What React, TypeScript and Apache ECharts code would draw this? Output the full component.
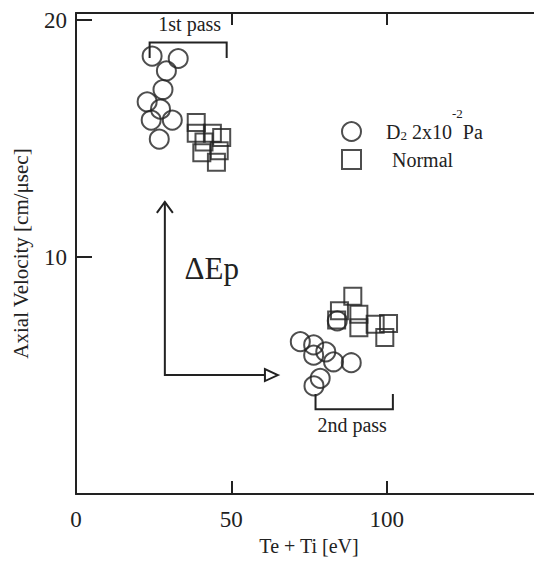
import React, { useEffect, useRef } from "react";
import * as echarts from "echarts";

// ---- data ----
const d2FirstPass: number[][] = [
  [24.5, 18.48], [32.9, 18.38], [29.1, 17.86], [28.0, 17.07], [22.9, 16.55],
  [27.2, 16.24], [24.2, 15.78], [31.0, 15.78], [26.8, 14.98],
];
const d2SecondPass: number[][] = [
  [72.2, 6.43], [76.5, 6.29], [76.5, 5.86], [80.4, 6.0], [82.9, 5.58],
  [88.6, 5.54], [78.6, 4.88], [76.6, 4.56], [84.1, 7.31],
];
const normalFirstPass: number[][] = [
  [38.7, 15.68], [38.7, 15.22], [43.9, 15.22], [46.9, 15.05],
  [41.2, 14.86], [40.5, 14.4], [46.1, 14.49], [45.2, 14.0],
];
const normalSecondPass: number[][] = [
  [89.1, 8.35], [84.8, 7.73], [83.9, 7.34], [91.05, 7.59],
  [91.05, 7.02], [96.3, 7.16], [100.6, 7.2], [99.4, 6.61],
];

const seriesNames = ["D2 2x10-2 Pa", "Normal"];
const xRange = [0, 150];
const yRange = [0, 20.3];
const xInterval = 50;
const yInterval = 10;

// annotation geometry in data coordinates
const bracket1st: number[][] = [[23.7, 18.4], [23.7, 19.06], [48.5, 19.06], [48.5, 18.4]];
const bracket2nd: number[][] = [[77.1, 4.22], [77.1, 3.58], [102, 3.58], [102, 4.22]];
const arrowPath: number[][] = [[28.6, 12.33], [28.6, 5.02], [65, 5.02]];
const label1st = { text: "1st pass", at: [36.6, 19.83] };
const label2nd = { text: "2nd pass", at: [88.9, 2.91] };
const labelDelta = { text: "ΔEp", at: [43.7, 9.5] };

const INK = "#222";
const FONT = "'Liberation Serif', 'Times New Roman', serif";

export default function App() {
  const ref = useRef<HTMLDivElement>(null);

  useEffect(() => {
    if (!ref.current) return;
    const chart = echarts.init(ref.current, undefined, { renderer: "svg" });

    const axisCommon = {
      type: "value" as const,
      splitLine: { show: false },
      axisLine: { show: true, onZero: false, lineStyle: { color: INK, width: 2 } },
    };

    const markerStyle = { color: "transparent", borderColor: INK, borderWidth: 2 };

    const option: any = {
      animation: false,
      backgroundColor: "#fff",
      grid: { left: 76, top: 13, width: 466, height: 481 },
      xAxis: [
        {
          ...axisCommon,
          min: xRange[0], max: xRange[1], interval: xInterval,
          position: "bottom",
          axisTick: { inside: true, length: 13, lineStyle: { color: INK, width: 2 } },
          axisLabel: { fontSize: 23, fontFamily: FONT, color: INK, margin: 14, showMaxLabel: false },
          name: "Te + Ti [eV]",
          nameLocation: "middle",
          nameGap: 40,
          nameTextStyle: { fontSize: 20, fontFamily: FONT, color: INK },
        },
        {
          ...axisCommon,
          min: xRange[0], max: xRange[1], interval: xInterval,
          position: "top",
          axisTick: { inside: true, length: 12, lineStyle: { color: INK, width: 2 } },
          axisLabel: { show: false },
        },
      ],
      yAxis: [
        {
          ...axisCommon,
          min: yRange[0], max: yRange[1], interval: yInterval,
          position: "left",
          axisTick: { inside: true, length: 16, lineStyle: { color: INK, width: 2 } },
          axisLabel: {
            fontSize: 23, fontFamily: FONT, color: INK, margin: 9,
            showMaxLabel: false, showMinLabel: false,
          },
          name: "Axial Velocity [cm/μsec]",
          nameLocation: "middle",
          nameGap: 45,
          nameTextStyle: { fontSize: 21, fontFamily: FONT, color: INK },
        },
        {
          ...axisCommon,
          min: yRange[0], max: yRange[1], interval: yInterval,
          position: "right",
          axisTick: { inside: true, length: 8, lineStyle: { color: INK, width: 2 } },
          axisLabel: { show: false },
        },
      ],
      legend: {
        orient: "vertical",
        left: 341,
        top: 107,
        padding: 0,
        itemWidth: 19,
        itemHeight: 19,
        itemGap: 7,
        selectedMode: false,
        data: [
          { name: seriesNames[0], icon: "circle", itemStyle: markerStyle },
          { name: seriesNames[1], icon: "rect", itemStyle: markerStyle },
        ],
        formatter: (name: string) =>
          name === seriesNames[0]
            ? "{sp|}{t|D}{sub|2}{t| 2x10}{sup|-2}{t|Pa}"
            : "{sp2|}{t|Normal}",
        textStyle: {
          color: INK,
          fontFamily: FONT,
          rich: {
            sp: { width: 20 },
            sp2: { width: 26 },
            t: { fontSize: 20, fontFamily: FONT, color: INK, verticalAlign: "middle" },
            sub: { fontSize: 13, fontFamily: FONT, color: INK, verticalAlign: "middle", padding: [7, 0, 0, 0] },
            sup: { fontSize: 13, fontFamily: FONT, color: INK, verticalAlign: "middle", padding: [0, 0, 36, 0] },
          },
        },
      },
      series: [
        {
          name: seriesNames[0],
          type: "scatter",
          symbol: "circle",
          symbolSize: 19,
          itemStyle: markerStyle,
          data: [...d2FirstPass, ...d2SecondPass],
        },
        {
          name: seriesNames[1],
          type: "scatter",
          symbol: "rect",
          symbolSize: 17,
          itemStyle: markerStyle,
          data: [...normalFirstPass, ...normalSecondPass],
        },
        {
          name: "annotations",
          type: "custom",
          clip: false,
          silent: true,
          data: [0],
          renderItem: (_params: any, api: any) => {
            const p = (pt: number[]) => api.coord(pt);
            const stroke = { stroke: INK, lineWidth: 2, fill: "none" };
            const poly = (pts: number[][]) => ({
              type: "polyline",
              shape: { points: pts.map(p) },
              style: stroke,
            });
            const text = (lab: { text: string; at: number[] }, size: number) => {
              const c = p(lab.at);
              return {
                type: "text",
                x: c[0],
                y: c[1],
                style: {
                  text: lab.text,
                  fontSize: size,
                  fontFamily: FONT,
                  fill: INK,
                  align: "center",
                  verticalAlign: "middle",
                },
              };
            };
            const tipV = p(arrowPath[0]);
            const tipH = p(arrowPath[arrowPath.length - 1]);
            return {
              type: "group",
              children: [
                poly(bracket1st),
                poly(bracket2nd),
                poly(arrowPath),
                {
                  type: "polyline",
                  shape: {
                    points: [
                      [tipV[0] - 8, tipV[1] + 11],
                      [tipV[0], tipV[1]],
                      [tipV[0] + 8, tipV[1] + 11],
                    ],
                  },
                  style: stroke,
                },
                {
                  type: "polygon",
                  shape: {
                    points: [
                      [tipH[0], tipH[1]],
                      [tipH[0] - 13, tipH[1] - 6],
                      [tipH[0] - 13, tipH[1] + 6],
                    ],
                  },
                  style: { stroke: INK, lineWidth: 2, fill: "#fff" },
                },
                text(label1st, 20),
                text(label2nd, 20),
                text(labelDelta, 31),
              ],
            };
          },
        },
      ],
    };

    chart.setOption(option);
    return () => chart.dispose();
  }, []);

  return <div ref={ref} style={{ width: 542, height: 565, margin: -8 }} />;
}
